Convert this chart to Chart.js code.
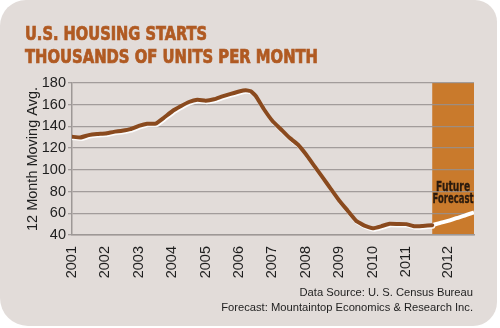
<!DOCTYPE html>
<html>
<head>
<meta charset="utf-8">
<script src="https://cdn.jsdelivr.net/npm/chart.js@4.4.1/dist/chart.umd.min.js"></script>
<style>
  html, body { margin: 0; padding: 0; background: #ffffff; }
  #card {
    position: absolute; left: 0; top: 0; width: 497px; height: 326px;
    background: #e2dcd9; border-radius: 26px 22px 24px 28px;
  }
  #wrap { position: absolute; left: 0; top: 0; width: 500px; height: 328px; }
</style>
</head>
<body>
<div id="card"></div>
<div id="wrap"><canvas id="lineChart" width="500" height="328"></canvas></div>
<script>
// housing starts, 12 month moving average (thousands of units), quarterly readings
var startYears = [
  2001.0, 2001.25, 2001.5, 2001.75, 2002.0, 2002.25, 2002.5, 2002.75,
  2003.0, 2003.25, 2003.5, 2003.75, 2004.0, 2004.25, 2004.5, 2004.75,
  2005.0, 2005.25, 2005.5, 2005.75, 2006.0, 2006.2, 2006.35, 2006.5,
  2006.75, 2007.0, 2007.25, 2007.5, 2007.75, 2008.0, 2008.25, 2008.5,
  2008.75, 2009.0, 2009.25, 2009.5, 2009.75, 2010.0, 2010.25, 2010.5,
  2010.75, 2011.0, 2011.25, 2011.5, 2011.78
];
var startValues = [
  130.5, 129.8, 132, 133, 133.5, 135, 136, 137.5,
  140.5, 142.5, 142.5, 148, 154, 158.5, 162.5, 164.5,
  163.7, 165, 167.7, 170, 172.2, 173.3, 172.5, 168,
  155.6, 145, 137.4, 129.7, 123.6, 114.4, 103.7, 93,
  82.3, 71.6, 62.4, 53.2, 48.6, 46.2, 48, 50.4,
  50.2, 50, 48, 48.4, 49
];
var forecastYears = [2011.78, 2012.0, 2012.25, 2012.5, 2012.75, 2013.03];
var forecastValues = [49, 51, 53, 55.5, 57.8, 60.8];

var tickYears = [2001, 2002, 2003, 2004, 2005, 2006, 2007, 2008, 2009, 2010, 2011, 2012.26];
var tickLabels = ['2001', '2002', '2003', '2004', '2005', '2006', '2007', '2008', '2009', '2010', '2011', '2012'];
var titleLines = ['U.S. HOUSING STARTS', 'THOUSANDS OF UNITS PER MONTH'];
var sourceLines = ['Data Source: U. S. Census Bureau', 'Forecast: Mountaintop Economics & Research Inc.'];
var forecastLabel = ['Future', 'Forecast'];
var forecastFrom = 2011.78;

function toPoints(xs, ys) {
  return xs.map(function (x, i) { return { x: x, y: ys[i] }; });
}

// draws text squeezed to a given width, with a light stroke for weight
function squeezed(ctx, text, x, y, width, stroke) {
  var w = ctx.measureText(text).width;
  ctx.save();
  ctx.translate(x, y);
  ctx.scale(width / w, 1);
  ctx.fillText(text, 0, 0);
  if (stroke) {
    ctx.lineWidth = stroke;
    ctx.strokeText(text, 0, 0);
  }
  ctx.restore();
}

// orange band behind the forecast, titles and source text
var decorations = {
  id: 'decorations',
  beforeDraw: function (chart) {
    var ctx = chart.ctx, a = chart.chartArea, xs = chart.scales.x;
    var x0 = xs.getPixelForValue(forecastFrom);
    ctx.save();
    ctx.fillStyle = '#c97a2c';
    ctx.fillRect(x0, a.top, a.right - x0, a.bottom - a.top);
    ctx.restore();
  },
  afterDraw: function (chart) {
    var ctx = chart.ctx, a = chart.chartArea, xs = chart.scales.x;
    ctx.save();
    ctx.fillStyle = '#b05a22';
    ctx.strokeStyle = '#b05a22';
    ctx.textBaseline = 'alphabetic';
    ctx.font = 'bold 19px "DejaVu Sans Condensed", "Liberation Sans", sans-serif';
    squeezed(ctx, titleLines[0], 25, 40, 182, 0.7);
    squeezed(ctx, titleLines[1], 25, 63, 293, 0.7);

    // label inside the forecast band
    var x0 = xs.getPixelForValue(forecastFrom);
    var cx = (x0 + a.right) / 2;
    ctx.fillStyle = '#2a1a0e';
    ctx.strokeStyle = '#2a1a0e';
    ctx.font = 'bold 14px "DejaVu Sans Condensed", "Liberation Sans", sans-serif';
    ctx.textAlign = 'center';
    ctx.textBaseline = 'middle';
    squeezed(ctx, forecastLabel[0], cx, 187, 34, 0.3);
    squeezed(ctx, forecastLabel[1], cx, 199, 41, 0.3);

    // source notes
    ctx.fillStyle = '#1e1e1e';
    ctx.font = '11.2px "Liberation Sans", Arial, sans-serif';
    ctx.textAlign = 'right';
    ctx.textBaseline = 'middle';
    ctx.fillText(sourceLines[0], 473, 293);
    ctx.fillText(sourceLines[1], 473, 308);
    ctx.restore();
  }
};

// light edge under the brown line
var lineGlow = {
  id: 'lineGlow',
  beforeDatasetDraw: function (chart, args) {
    if (args.index !== 0) return;
    var ctx = chart.ctx;
    ctx.save();
    ctx.shadowColor = 'rgba(255,255,255,0.9)';
    ctx.shadowOffsetX = 1;
    ctx.shadowOffsetY = 1.5;
    ctx.shadowBlur = 0;
  },
  afterDatasetDraw: function (chart, args) {
    if (args.index !== 0) return;
    chart.ctx.restore();
  }
};

var ctxL = document.getElementById('lineChart').getContext('2d');
var housingChart = new Chart(ctxL, {
  type: 'line',
  data: {
    datasets: [{
      label: 'Housing starts',
      data: toPoints(startYears, startValues),
      borderColor: '#8a4a1e',
      borderWidth: 4,
      pointRadius: 0,
      tension: 0.1,
      borderCapStyle: 'round',
      borderJoinStyle: 'round'
    }, {
      label: 'Forecast',
      data: toPoints(forecastYears, forecastValues),
      borderColor: '#ffffff',
      borderWidth: 4,
      pointRadius: 0,
      tension: 0.3
    }]
  },
  options: {
    responsive: false,
    animation: false,
    layout: { padding: { top: 83, left: 24, right: 26, bottom: 0 } },
    plugins: { legend: { display: false }, tooltip: { enabled: false } },
    scales: {
      x: {
        type: 'linear',
        min: 2001,
        max: 2013.03,
        afterBuildTicks: function (scale) {
          scale.ticks = tickYears.map(function (v) { return { value: v }; });
        },
        afterFit: function (scale) { scale.height = 93; },
        ticks: {
          autoSkip: false,
          minRotation: 90,
          maxRotation: 90,
          padding: 3,
          color: '#1e1e1e',
          font: { family: '"Liberation Sans", Arial, sans-serif', size: 14.5 },
          callback: function (v, i) { return tickLabels[i]; }
        },
        grid: { display: false },
        border: { display: true, color: '#9d9896', width: 1.5 }
      },
      y: {
        min: 40,
        max: 180,
        afterFit: function (scale) { scale.width = 48; },
        ticks: {
          stepSize: 20,
          padding: 2,
          color: '#1e1e1e',
          font: { family: '"Liberation Sans", Arial, sans-serif', size: 14.5 }
        },
        grid: { color: 'rgba(150,145,143,0.85)', lineWidth: 1.3, tickLength: 4 },
        border: { display: true, color: '#9d9896', width: 1.5 },
        title: {
          display: true,
          text: '12 Month Moving Avg.',
          color: '#1e1e1e',
          padding: { top: 0, bottom: 0 },
          font: { family: '"Liberation Sans", Arial, sans-serif', size: 14.5 }
        }
      }
    }
  },
  plugins: [decorations, lineGlow]
});
</script>
</body>
</html>
